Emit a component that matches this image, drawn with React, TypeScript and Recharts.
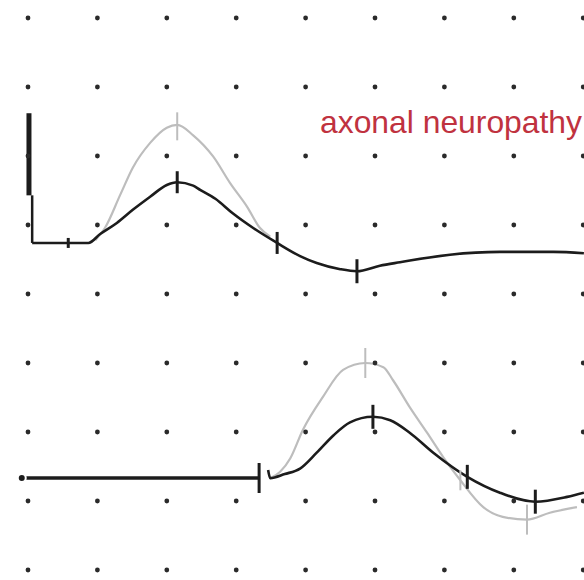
import React from "react";
import { ComposedChart, Line, Scatter, XAxis, YAxis } from "recharts";

// x in ms (1 ms per division), y in divisions from the bottom row of dots
const gridCols = [0, 1, 2, 3, 4, 5, 6, 7, 8];
const gridRows = [0, 1, 2, 3, 4, 5, 6, 7, 8];

// upper trace (black = proximal, grey = distal overlay)
const stimThickX = [0.014, 0.014];
const stimThickY = [6.62, 5.43];
const stimThinX = [0.06, 0.06];
const stimThinY = [5.43, 4.74];

const topBlackX = [0.06, 0.32, 0.58, 0.87, 1.04, 1.28, 1.51, 1.76, 2.0, 2.15, 2.38, 2.48, 2.7, 2.95, 3.24, 3.59, 3.92, 4.16, 4.5, 4.74, 5.07, 5.36, 6.08, 6.8, 7.57, 8.01];
const topBlackY = [4.74, 4.74, 4.74, 4.74, 4.87, 5.03, 5.22, 5.41, 5.58, 5.62, 5.57, 5.51, 5.38, 5.17, 4.96, 4.74, 4.55, 4.45, 4.36, 4.33, 4.41, 4.46, 4.57, 4.61, 4.61, 4.59];

const topGreyX = [0.97, 1.11, 1.33, 1.51, 1.76, 2.0, 2.15, 2.38, 2.67, 2.91, 3.16, 3.34, 3.49];
const topGreyY = [4.78, 4.96, 5.44, 5.83, 6.19, 6.41, 6.45, 6.3, 5.99, 5.61, 5.26, 4.96, 4.83];

// lower trace
const baseX = [-0.09, 3.33];
const baseY = [1.333, 1.333];

const lowBlackX = [3.46, 3.49, 3.7, 3.92, 4.16, 4.4, 4.64, 4.97, 5.22, 5.5, 5.84, 6.33, 6.8, 7.31, 7.77, 8.01];
const lowBlackY = [1.45, 1.33, 1.39, 1.47, 1.7, 1.95, 2.14, 2.22, 2.17, 1.99, 1.7, 1.35, 1.12, 0.99, 1.06, 1.12];

const lowGreyX = [3.49, 3.63, 3.78, 3.96, 4.25, 4.54, 4.86, 5.12, 5.26, 5.5, 5.75, 5.98, 6.23, 6.56, 6.84, 7.19, 7.52, 7.91];
const lowGreyY = [1.33, 1.42, 1.62, 2.03, 2.51, 2.9, 3.0, 2.94, 2.75, 2.36, 1.99, 1.64, 1.3, 0.91, 0.77, 0.73, 0.83, 0.91];

// cursor marks: position and length in px
const blackMarkX = [0.58, 2.15, 3.59, 4.74, 3.33, 4.97, 6.33, 7.31];
const blackMarkY = [4.74, 5.62, 4.74, 4.33, 1.333, 2.22, 1.35, 0.99];
const blackMarkLen = [10, 22, 22, 24, 30, 24, 24, 24];

const greyMarkX = [2.15, 4.86, 6.23, 7.19];
const greyMarkY = [6.43, 3.0, 1.3, 0.73];
const greyMarkLen = [28, 30, 20, 30];

const zip = (xs: number[], ys: number[]) => xs.map((x, i) => ({ x, y: ys[i] }));

const dots = gridRows.flatMap((r) => gridCols.map((c) => ({ x: c, y: r })));
const blackMarks = blackMarkX.map((x, i) => ({ x, y: blackMarkY[i], len: blackMarkLen[i] }));
const greyMarks = greyMarkX.map((x, i) => ({ x, y: greyMarkY[i], len: greyMarkLen[i] }));

const tick = (color: string, w: number) => (props: any) => {
  const { cx, cy, payload } = props;
  const h = payload.len / 2;
  return <line x1={cx} x2={cx} y1={cy - h} y2={cy + h} stroke={color} strokeWidth={w} />;
};

const dotShape = (props: any) => <circle cx={props.cx} cy={props.cy} r={2.4} fill="#2a2a2a" />;

export default function App() {
  return (
    <div style={{ position: "absolute", left: 0, top: 0, width: 584, height: 580, background: "#fff", overflow: "hidden" }}>
      <ComposedChart width={584} height={580} margin={{ top: 0, right: 0, bottom: 0, left: 0 }}>
        <XAxis dataKey="x" type="number" domain={[-0.4035, 8.0115]} allowDataOverflow hide />
        <YAxis dataKey="y" type="number" domain={[-0.145, 8.261]} allowDataOverflow hide />
        <Scatter data={dots} shape={dotShape} isAnimationActive={false} />
        <Line data={zip(topGreyX, topGreyY)} dataKey="y" type="monotone" stroke="#bdbdbd" strokeWidth={2.2} dot={false} isAnimationActive={false} />
        <Line data={zip(lowGreyX, lowGreyY)} dataKey="y" type="monotone" stroke="#bdbdbd" strokeWidth={2.2} dot={false} isAnimationActive={false} />
        <Line data={zip(stimThickX, stimThickY)} dataKey="y" type="linear" stroke="#1c1c1c" strokeWidth={5} dot={false} isAnimationActive={false} />
        <Line data={zip(stimThinX, stimThinY)} dataKey="y" type="linear" stroke="#1c1c1c" strokeWidth={2.5} dot={false} isAnimationActive={false} />
        <Line data={zip(topBlackX, topBlackY)} dataKey="y" type="monotone" stroke="#1c1c1c" strokeWidth={2.6} dot={false} isAnimationActive={false} />
        <Line data={zip(baseX, baseY)} dataKey="y" type="linear" stroke="#1c1c1c" strokeWidth={3.5} dot={false} isAnimationActive={false} />
        <Line data={zip(lowBlackX, lowBlackY)} dataKey="y" type="monotone" stroke="#1c1c1c" strokeWidth={2.6} dot={false} isAnimationActive={false} />
        <Scatter data={greyMarks} shape={tick("#bdbdbd", 2)} isAnimationActive={false} />
        <Scatter data={blackMarks} shape={tick("#1c1c1c", 3)} isAnimationActive={false} />
      </ComposedChart>
      <svg width={584} height={580} style={{ position: "absolute", left: 0, top: 0, pointerEvents: "none" }}>
        <text x={320} y={133} textLength={262} lengthAdjust="spacingAndGlyphs" fontFamily="'Liberation Sans', Arial, sans-serif" fontSize={32} fill="#c0323f">
          axonal neuropathy
        </text>
      </svg>
    </div>
  );
}
